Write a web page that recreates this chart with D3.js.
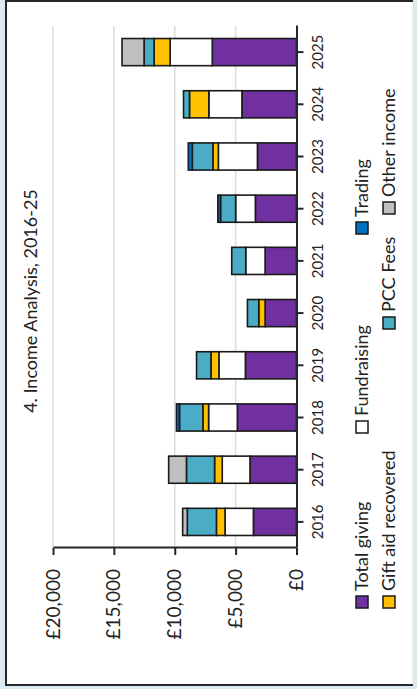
<!DOCTYPE html>
<html><head><meta charset="utf-8">
<script src="https://cdn.jsdelivr.net/npm/d3@7"></script>
<style>html,body{margin:0;padding:0;background:#dcebf3;}svg{display:block;}</style>
</head><body>
<script>
const years = ["2016","2017","2018","2019","2020","2021","2022","2023","2024","2025"];
const totalGiving = [3540, 3820, 4860, 4200, 2580, 2580, 3380, 3210, 4480, 6920];
const fundraising = [2330, 2280, 2360, 2170, 0, 1590, 1620, 3210, 2720, 3460];
const giftAid     = [710, 630, 470, 660, 520, 0, 0, 440, 1590, 1320];
const pccFees     = [2390, 2310, 1920, 1180, 930, 1150, 1240, 1700, 490, 820];
const trading     = [0, 0, 250, 0, 0, 0, 220, 330, 0, 0];
const otherIncome = [380, 1460, 0, 0, 0, 0, 0, 0, 0, 1810];
const seriesNames = ["Total giving","Fundraising","Gift aid recovered","PCC Fees","Trading","Other income"];
const yTicks = [0, 5000, 10000, 15000, 20000];
const title = "4. Income Analysis, 2016-25";

const colors = {"Total giving":"#7030a0","Fundraising":"#ffffff","Gift aid recovered":"#ffc000","PCC Fees":"#4bacc6","Trading":"#0070c0","Other income":"#bfbfbf"};
const seriesVals = [totalGiving, fundraising, giftAid, pccFees, trading, otherIncome];
const table = years.map((yr,i)=>{const o={year:yr}; seriesNames.forEach((n,j)=>o[n]=seriesVals[j][i]); return o;});

const W=417,H=689, FONT="Lato, 'Open Sans', sans-serif";
const svg=d3.select("body").append("svg").attr("width",W).attr("height",H);
svg.append("rect").attr("width",W).attr("height",H).attr("fill","#dcebf3");
svg.append("rect").attr("x",6).attr("y",1).attr("width",407).attr("height",684).attr("fill","#fff");
svg.append("line").attr("x1",413).attr("x2",413).attr("y1",1).attr("y2",685).attr("stroke","#e2e2e2").attr("stroke-width",1);
svg.append("path").attr("d","M413,1H6V685H413").attr("fill","none").attr("stroke","#262626").attr("stroke-width",2);

// chart drawn in unrotated coordinates, then rotated -90deg
const g=svg.append("g").attr("transform",`translate(0,${H}) rotate(-90)`);
const x=d3.scaleBand().domain(years).range([141,663]).paddingInner(0.48).paddingOuter(0.24);
const y=d3.scaleLinear().domain([0,20000]).range([296.5,53]);

g.append("g").selectAll("line").data(yTicks.filter(t=>t>0)).join("line")
  .attr("x1",141).attr("x2",663).attr("y1",d=>y(d)).attr("y2",d=>y(d))
  .attr("stroke","#dcdcdc").attr("stroke-width",1.5);

const stack=d3.stack().keys(seriesNames)(table);
g.append("g").selectAll("g").data(stack).join("g").attr("fill",s=>colors[s.key])
  .selectAll("rect").data(s=>s.filter(d=>d[1]-d[0]>0)).join("rect")
  .attr("x",d=>x(d.data.year)).attr("width",x.bandwidth())
  .attr("y",d=>y(d[1])).attr("height",d=>y(d[0])-y(d[1]))
  .attr("stroke","#1a1a1a").attr("stroke-width",1.6);

const yAxis=g.append("g").attr("transform","translate(141,0)")
  .call(d3.axisLeft(y).tickValues(yTicks).tickFormat(d=>"£"+d3.format(",")(d)).tickSize(7).tickSizeOuter(0).tickPadding(14));
const xAxis=g.append("g").attr("transform","translate(0,296.5)")
  .call(d3.axisBottom(x).tickSize(7).tickSizeOuter(0).tickPadding(9));
[yAxis,xAxis].forEach(a=>{a.selectAll("path,line").attr("stroke","#262626").attr("stroke-width",2);a.selectAll("text").attr("fill","#222").style("font-family",FONT);});
yAxis.selectAll("text").style("font-size","19px");
xAxis.selectAll("text").style("font-size","15px");

g.append("text").attr("x",388).attr("y",37).attr("text-anchor","middle")
  .style("font-family",FONT).style("font-size","18px").attr("fill","#222").text(title);

// legend layout: Total giving, Fundraising, Gift aid, PCC Fees, Trading, Other income
const legendPos=[[81,356],[256,356],[81,383],[360,383],[455,356],[475,383]];
const lg=g.append("g").selectAll("g").data(seriesNames).join("g")
  .attr("transform",(d,i)=>`translate(${legendPos[i][0]},${legendPos[i][1]})`);
lg.append("rect").attr("width",12).attr("height",12).attr("fill",d=>colors[d]).attr("stroke","#1a1a1a").attr("stroke-width",1.5);
lg.append("text").attr("x",17).attr("y",12).style("font-family",FONT).style("font-size","18px").attr("fill","#222").text(d=>d);
</script>
</body></html>
